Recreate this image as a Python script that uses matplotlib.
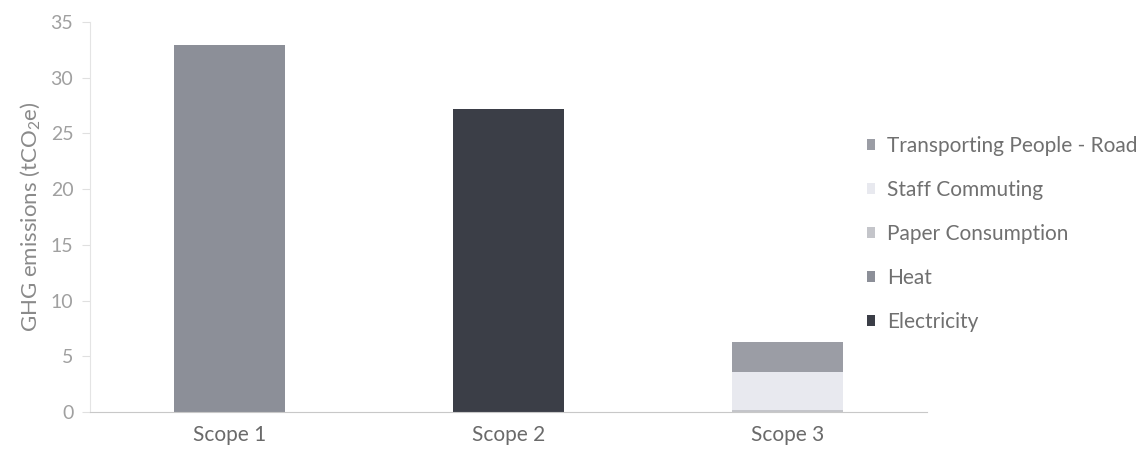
import matplotlib
matplotlib.use("Agg")
import matplotlib.pyplot as plt
import numpy as np

categories = ["Scope 1", "Scope 2", "Scope 3"]
series_names = ["Electricity", "Heat", "Paper Consumption", "Staff Commuting", "Transporting People - Road"]
electricity = [0, 27.2, 0]
heat = [32.9, 0, 0]
paper = [0, 0, 0.15]
staff = [0, 0, 3.45]
transport = [0, 0, 2.7]
colors = ["#3b3e47", "#8c8f98", "#c4c5ca", "#e8e9ef", "#9b9da5"]

plt.rcParams['font.family'] = ['Lato', 'DejaVu Sans']
plt.rcParams['mathtext.fontset'] = 'custom'
plt.rcParams['mathtext.rm'] = 'Lato'
plt.rcParams['mathtext.it'] = 'Lato'
fig = plt.figure(figsize=(11.45, 4.54), dpi=100)
ax = fig.add_axes([0.0786, 0.0925, 0.731, 0.859])

x = np.arange(len(categories))
bottom = np.zeros(len(categories))
handles = []
for name, vals, c in zip(series_names, [electricity, heat, paper, staff, transport], colors):
    b = ax.bar(x, vals, 0.4, bottom=bottom, color=c, label=name)
    handles.append(b)
    bottom += np.array(vals)

ax.set_xlim(-0.5, 2.5)
ax.set_ylim(0, 35)
ax.set_yticks(range(0, 36, 5))
ax.set_xticks(x)
ax.set_xticklabels(categories)
for s in ["top", "right"]:
    ax.spines[s].set_visible(False)
ax.spines["left"].set_color("#e4e4e4")
ax.spines["bottom"].set_color("#c8c8c8")
ax.tick_params(axis="y", colors="#e0e0e0", labelcolor="#a0a0a0", labelsize=14, length=6, pad=6)
ax.tick_params(axis="x", length=0, labelcolor="#6a6a6a", labelsize=15, pad=9)
ax.set_ylabel("GHG emissions (tCO$_2$e)", color="#8a8a8a", fontsize=16, labelpad=6)

leg = fig.legend(handles[::-1], series_names[::-1], loc="center left",
                 bbox_to_anchor=(867 / 1145, 0.485), frameon=False, fontsize=15,
                 borderaxespad=0, borderpad=0,
                 handlelength=0.4, handleheight=0.4, labelspacing=1.15,
                 handletextpad=0.55, labelcolor="#707070")
fig.savefig("out.png", dpi=100)
